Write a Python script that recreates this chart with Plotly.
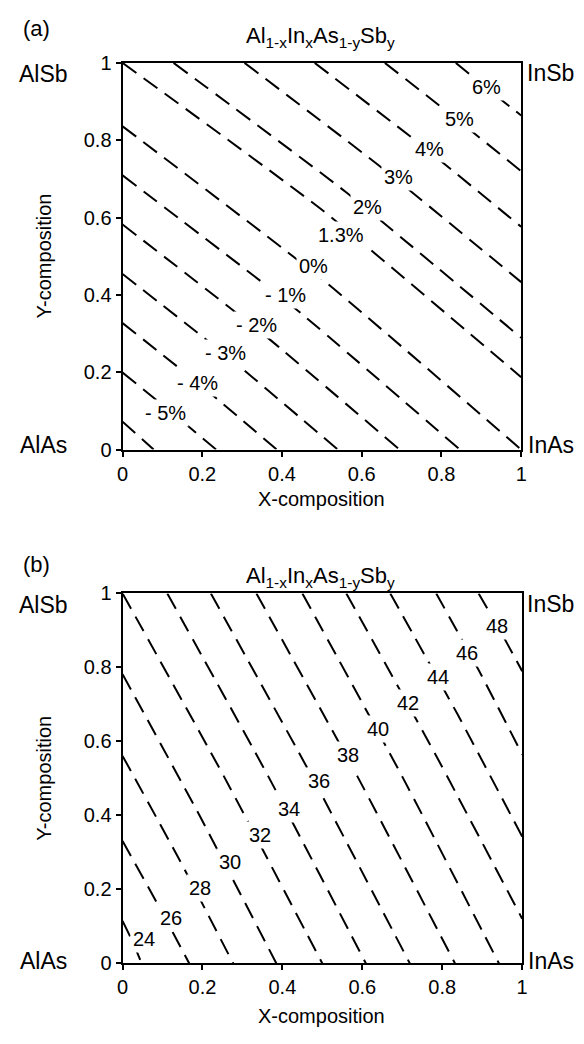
import plotly.graph_objects as go

W, H = 584, 1044
FONT = "Liberation Sans, Arial, sans-serif"

# ---------------- Panel (a): lattice mismatch contours ----------------
a_levels = ["-6%", "-5%", "-4%", "-3%", "-2%", "-1%", "0%", "1.3%", "2%", "3%", "4%", "5%", "6%"]
a_x = [
    [0, 0.078],
    [0, 0.115, 0.235],
    [0, 0.195, 0.387],
    [0, 0.27, 0.54],
    [0, 0.35, 0.695],
    [0, 0.42, 0.846],
    [0, 0.5, 1.0],
    [0, 0.5, 1.0],
    [0.128, 0.56, 1.0],
    [0.306, 0.65, 1.0],
    [0.482, 0.74, 1.0],
    [0.658, 0.83, 1.0],
    [0.836, 0.915, 1.0],
]
a_y = [
    [0.072, 0],
    [0.199, 0.103, 0],
    [0.327, 0.167, 0],
    [0.454, 0.235, 0],
    [0.582, 0.301, 0],
    [0.709, 0.376, 0],
    [0.836, 0.441, 0],
    [1.0, 0.62, 0.187],
    [1.0, 0.666, 0.289],
    [1.0, 0.729, 0.433],
    [1.0, 0.795, 0.576],
    [1.0, 0.861, 0.72],
    [1.0, 0.933, 0.864],
]
a_label_text = ["6%", "5%", "4%", "3%", "2%", "1.3%", "0%", "- 1%", "- 2%", "- 3%", "- 4%", "- 5%"]
a_label_x = [0.914, 0.846, 0.769, 0.691, 0.615, 0.549, 0.480, 0.408, 0.336, 0.258, 0.187, 0.107]
a_label_y = [0.937, 0.856, 0.778, 0.704, 0.628, 0.556, 0.475, 0.399, 0.323, 0.250, 0.171, 0.095]

# ---------------- Panel (b): second property contours ----------------
b_levels = [24, 26, 28, 30, 32, 34, 36, 38, 40, 42, 44, 46, 48]
b_x = [
    [0, 0.025, 0.048],
    [0, 0.085, 0.167],
    [0, 0.141, 0.277],
    [0, 0.195, 0.385],
    [0, 0.254, 0.5],
    [0.112, 0.365, 0.609],
    [0.221, 0.474, 0.719],
    [0.335, 0.588, 0.832],
    [0.45, 0.700, 0.942],
    [0.56, 0.783, 1.0],
    [0.67, 0.838, 1.0],
    [0.785, 0.895, 1.0],
    [0.891, 0.946, 1.0],
]
b_y = [
    [0.115, 0.059, 0],
    [0.331, 0.166, 0],
    [0.561, 0.283, 0],
    [0.782, 0.395, 0],
    [1.0, 0.505, 0],
    [1.0, 0.505, 0],
    [1.0, 0.505, 0],
    [1.0, 0.505, 0],
    [1.0, 0.505, 0],
    [1.0, 0.565, 0.121],
    [1.0, 0.674, 0.343],
    [1.0, 0.785, 0.565],
    [1.0, 0.897, 0.79],
]
b_label_text = ["24", "26", "28", "30", "32", "34", "36", "38", "40", "42", "44", "46", "48"]
b_label_x = [0.053, 0.121, 0.195, 0.270, 0.343, 0.417, 0.492, 0.564, 0.639, 0.715, 0.789, 0.863, 0.936]
b_label_y = [0.066, 0.124, 0.203, 0.274, 0.346, 0.417, 0.492, 0.564, 0.634, 0.705, 0.775, 0.839, 0.912]

tick_vals = [0, 0.2, 0.4, 0.6, 0.8, 1.0]
tick_text = ["0", "0.2", "0.4", "0.6", "0.8", "1"]
formula = "Al<sub>1-x</sub>In<sub>x</sub>As<sub>1-y</sub>Sb<sub>y</sub>"

fig = go.Figure()

line_style = dict(color="black", width=2, dash="17px,9px", shape="spline", smoothing=0.5)
for xs, ys, lv in zip(a_x, a_y, a_levels):
    fig.add_trace(go.Scatter(x=xs, y=ys, mode="lines", line=line_style, name=lv,
                             xaxis="x", yaxis="y", hoverinfo="skip"))
for xs, ys, lv in zip(b_x, b_y, b_levels):
    fig.add_trace(go.Scatter(x=xs, y=ys, mode="lines", line=line_style, name=str(lv),
                             xaxis="x2", yaxis="y2", hoverinfo="skip"))


def px_x(p):
    return p / W


def px_y(p):
    return 1 - p / H


axis_common = dict(
    range=[0, 1], tickvals=tick_vals, ticktext=tick_text,
    showline=True, linecolor="black", linewidth=2, mirror=True,
    ticks="outside", ticklen=5, tickwidth=1.5, tickcolor="black",
    showgrid=False, zeroline=False, fixedrange=True,
    tickfont=dict(family=FONT, size=20, color="black"),
)

fig.update_layout(
    width=W, height=H, autosize=False,
    margin=dict(l=0, r=0, t=0, b=0),
    paper_bgcolor="white", plot_bgcolor="white",
    showlegend=False,
    font=dict(family=FONT, color="black"),
    xaxis=dict(domain=[px_x(119), px_x(526)], anchor="y", **axis_common),
    yaxis=dict(domain=[px_y(448), px_y(53)], anchor="x", **axis_common),
    xaxis2=dict(domain=[px_x(119), px_x(527)], anchor="y2", **axis_common),
    yaxis2=dict(domain=[px_y(973), px_y(595)], anchor="x2", **axis_common),
)

C = dict(xanchor="center", yanchor="middle", showarrow=False)
ann = []
for t, x, y in zip(a_label_text, a_label_x, a_label_y):
    ann.append(dict(x=x, y=y, xref="x", yref="y", text=t, font=dict(size=20),
                    bgcolor="white", borderpad=2, **C))
for t, x, y in zip(b_label_text, b_label_x, b_label_y):
    ann.append(dict(x=x, y=y, xref="x2", yref="y2", text=t, font=dict(size=20),
                    bgcolor="white", borderpad=2, **C))

panels = [
    # label, label_y, title_y, top, bottom, xtitle_y, alsb_y, alas_y
    ("(a)", 18, 27, 53, 448, 498, 64, 443),
    ("(b)", 565, 578, 595, 973, 1027, 607, 970),
]
for lab, ly, ty, top, bot, xty, sby, asy in panels:
    ann.append(dict(x=px_x(31), y=px_y(ly), xref="paper", yref="paper", text=lab,
                    font=dict(size=22), **C))
    ann.append(dict(x=px_x(321), y=px_y(ty), xref="paper", yref="paper", text=formula,
                    font=dict(size=22), **C))
    ann.append(dict(x=px_x(322), y=px_y(xty), xref="paper", yref="paper", text="X-composition",
                    font=dict(size=20), **C))
    ann.append(dict(x=px_x(39), y=px_y((top + bot) / 2), xref="paper", yref="paper",
                    text="Y-composition", textangle=-90, font=dict(size=20), **C))
    ann.append(dict(x=px_x(38), y=px_y(sby), xref="paper", yref="paper", text="AlSb",
                    font=dict(size=23), **C))
    ann.append(dict(x=px_x(38), y=px_y(asy), xref="paper", yref="paper", text="AlAs",
                    font=dict(size=23), **C))
    ann.append(dict(x=px_x(556), y=px_y(sby - 1), xref="paper", yref="paper", text="InSb",
                    font=dict(size=23), **C))
    ann.append(dict(x=px_x(556), y=px_y(asy), xref="paper", yref="paper", text="InAs",
                    font=dict(size=23), **C))

fig.update_layout(annotations=ann)
fig.write_html(
    "out.html",
    config={"displayModeBar": False},
    post_script="document.body.style.margin='0';document.body.style.padding='0';"
                "document.body.style.overflow='hidden';"
                "document.documentElement.style.overflow='hidden';",
)
